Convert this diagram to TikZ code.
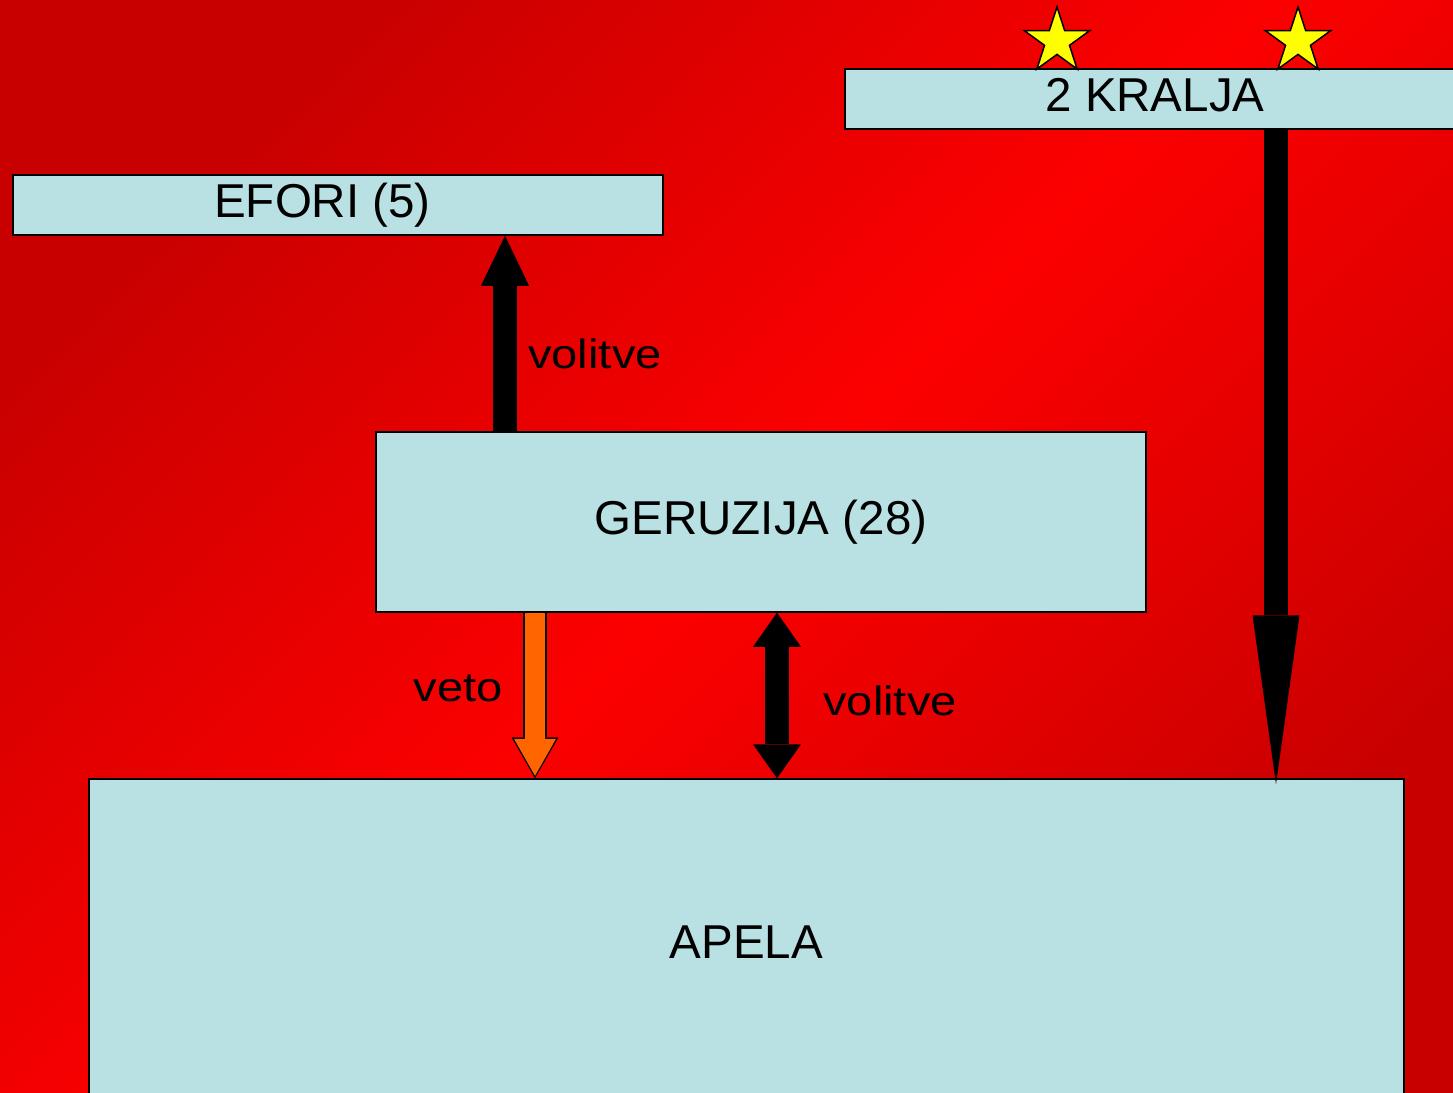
\documentclass[tikz,border=0pt]{standalone}
\usepackage{fontspec}
\usepackage{tikz}
\usepackage{xcolor}
\setmainfont{Liberation Sans}
\newfontfamily\lblfont[FakeStretch = 1.15]{Liberation Sans}
\usetikzlibrary{arrows.meta, shapes.geometric}
\definecolor{bgdark}{RGB}{200, 0, 0}
\definecolor{bglight}{RGB}{252, 0, 0}
\definecolor{boxblue}{RGB}{185, 224, 227}
\definecolor{vetoorange}{RGB}{255, 102, 0}
\definecolor{staryellow}{RGB}{255, 255, 0}
\pgfdeclarehorizontalshading{redbg}{100bp}{color(0bp)=(bgdark); color(25bp)=(bgdark); color(50bp)=(bglight); color(75bp)=(bgdark); color(100bp)=(bgdark)}

\begin{document}
\begin{tikzpicture}[x = 1pt, y = -1pt,
  box/.style = {draw = black, line width = 1.5pt, fill = boxblue, inner sep = 0pt,
    text height = 35pt, text depth = 10pt, font = \fontsize{47.5}{56}\selectfont},
  lbl/.style = {inner sep = 0pt, font = \lblfont\fontsize{41}{48}\selectfont},
  kingstar/.style = {star, star points = 5, star point ratio = 2.618, minimum size = 68.6pt,
    inner sep = 0pt, draw = black, line width = 1.5pt, fill = staryellow},
  bigarrow/.style = {draw = black, line width = 24pt}]
\useasboundingbox (0,0) rectangle (1453,1092);
\begin{scope}[y = 1pt]
\shade[shading = redbg, shading angle = -45] (0,-1092) rectangle (1453,0);
\end{scope}
% boxes
\node[box, minimum width = 620pt, minimum height = 60pt] (kralja) at (1155,99) {2 KRALJA};
\node[box, minimum width = 650pt, minimum height = 60pt] (efori) at (338,205) {\hspace*{-31pt}EFORI (5)};
\node[box, minimum width = 770pt, minimum height = 180pt] (geruzija) at (761,522) {GERUZIJA (28)};
\node[box, minimum width = 1315pt, minimum height = 333pt] (apela) at (746.5,945.5) {APELA};
\node[kingstar] (star1) at (1057,41.3) {};
\node[kingstar] (star2) at (1298,41.3) {};
% arrows
\draw[bigarrow, -{Triangle[width = 48pt, length = 50pt, line width = 0pt]}] ([xshift = -256pt]geruzija.north) -- ([xshift = -256pt]geruzija.north |- efori.south);
\draw[bigarrow, -{Triangle[width = 47pt, length = 169pt, line width = 0pt]}, shorten > = -6pt] ([xshift = 121pt]kralja.south) -- ([xshift = 121pt]kralja.south |- apela.north);
\draw[bigarrow, {Triangle[width = 48pt, length = 34pt, line width = 0pt]}-{Triangle[width = 48pt, length = 34pt, line width = 0pt]}] ([xshift = 16pt]geruzija.south) -- ([xshift = 16pt]geruzija.south |- apela.north);
\draw[draw = black, line width = 23.5pt, -{Triangle[width = 47pt, length = 41pt, line width = 0pt]}] ([xshift = -226pt]geruzija.south) -- ([xshift = -226pt]geruzija.south |- apela.north);
\draw[draw = vetoorange, line width = 20.5pt, -{Triangle[width = 42pt, length = 37pt, line width = 0pt]}, shorten > = 2.5pt] ([xshift = -226pt]geruzija.south) -- ([xshift = -226pt]geruzija.south |- apela.north);
% labels
\node[lbl, anchor = base west] (vol1) at (528,368) {volitve};
\node[lbl, anchor = base east] (veto) at (503,701) {veto};
\node[lbl, anchor = base west] (vol2) at (823,715) {volitve};
\end{tikzpicture}
\end{document}
